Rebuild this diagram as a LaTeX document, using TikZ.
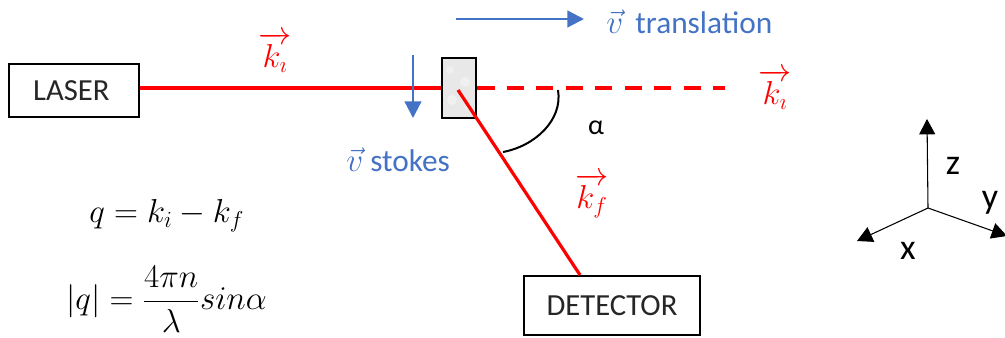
\documentclass[tikz,border=0pt]{standalone}
\usepackage{fontspec}
\usepackage{amsmath}
\setmainfont{Carlito}
\usetikzlibrary{arrows.meta}
\definecolor{bluetxt}{HTML}{4472C4}
\definecolor{beamred}{HTML}{FF0000}
\newcommand{\vecv}{$\vec{v}$}
\tikzset{
  x=0.75pt,y=-0.75pt,
  boxnode/.style={draw=black,line width=1.5pt,fill=white,inner sep=0pt,font=\fontsize{23}{26}\selectfont,text=black!85},
  beam/.style={draw=beamred,line width=2.7pt},
  bluearrow/.style={draw=bluetxt,line width=1.7pt,-{Triangle[length=12.5pt,width=12.5pt]}},
  axis/.style={draw=black,line width=0.8pt,-{Triangle[length=11.5pt,width=12pt]}},
  bluelabel/.style={text=bluetxt,font=\fontsize{23.5}{26}\selectfont,inner sep=0pt},
  redlabel/.style={text=beamred,font=\fontsize{24}{27}\selectfont,inner sep=0pt},
  axlabel/.style={font=\fontsize{27}{30}\selectfont,inner sep=0pt,text=black},
  eq/.style={font=\fontsize{23}{27}\selectfont,inner sep=0pt,text=black}
}
\begin{document}
\begin{tikzpicture}
\useasboundingbox (0,0) rectangle (1005,338);
\node[boxnode,minimum width=97.5pt,minimum height=39.5pt] (laser) at (74,90.5) {\raisebox{-2pt}{LASER\hspace{4pt}}};
\node[boxnode,minimum width=132pt,minimum height=44pt] (detector) at (612,305.5) {DETECTOR};
\node[draw=black,line width=1.7pt,fill=black!9,minimum width=26pt,minimum height=45.5pt,inner sep=0pt] (sample) at (459,88) {};
\fill[white,opacity=.35] (450,70) circle (4) (465,82) circle (5) (452,100) circle (5) (468,106) circle (3.5);
\coordinate (scatter) at (458,90);
\coordinate (dashend) at (725,88);
\coordinate (detin) at (580,275);
\coordinate (arcA) at (558,90);
\coordinate (arcB) at (503,152);
\draw[beam] (laser.east |- sample.west) -- (sample.west);
\draw[beam,dash pattern=on 12.8pt off 9.3pt] (sample.east) -- (dashend);
\draw[beam,line width=2.4pt] (scatter) -- (detin);
\draw[black,line width=1.5pt] (arcA) .. controls (563,120) and (535,146) .. (arcB);
\coordinate (stokesA) at (413,55);
\coordinate (stokesB) at (413,118);
\coordinate (transA) at (456,19);
\coordinate (transB) at (584,19);
\draw[bluearrow] (stokesA) -- (stokesB);
\draw[bluearrow] (transA) -- (transB);
\node[redlabel] (k1) at (275,52) {$\overrightarrow{k_\imath}$};
\node[redlabel] (k2) at (775,89) {$\overrightarrow{k_\imath}$};
\node[redlabel] (k3) at (592,196) {$\overrightarrow{k_f}$};
\node[bluelabel,anchor=west] (stokes) at (346,160) {\vecv\ stokes};
\node[bluelabel,anchor=west] (trans) at (606,22) {\vecv\ \,translation};
\node[font=\fontsize{21}{24}\selectfont,inner sep=0pt] (alpha) at (596,128) {α};
\node[eq,anchor=west] (eq1) at (89,216) {$q = k_i - k_f$};
\node[eq,anchor=west] (eq2) at (66,299) {$|q| = \dfrac{4\pi n}{\lambda}sin\alpha$};
\coordinate (O) at (928,208);
\coordinate (Z) at (927,119);
\coordinate (X) at (857,241);
\coordinate (Y) at (1007,236);
\draw[axis] (O) -- (Z);
\draw[axis] (O) -- (X);
\draw[axis] (O) -- (Y);
\node[axlabel] (lz) at (953,166) {z};
\node[axlabel] (ly) at (990,203) {y};
\node[axlabel] (lx) at (908,251) {x};
\end{tikzpicture}
\end{document}
